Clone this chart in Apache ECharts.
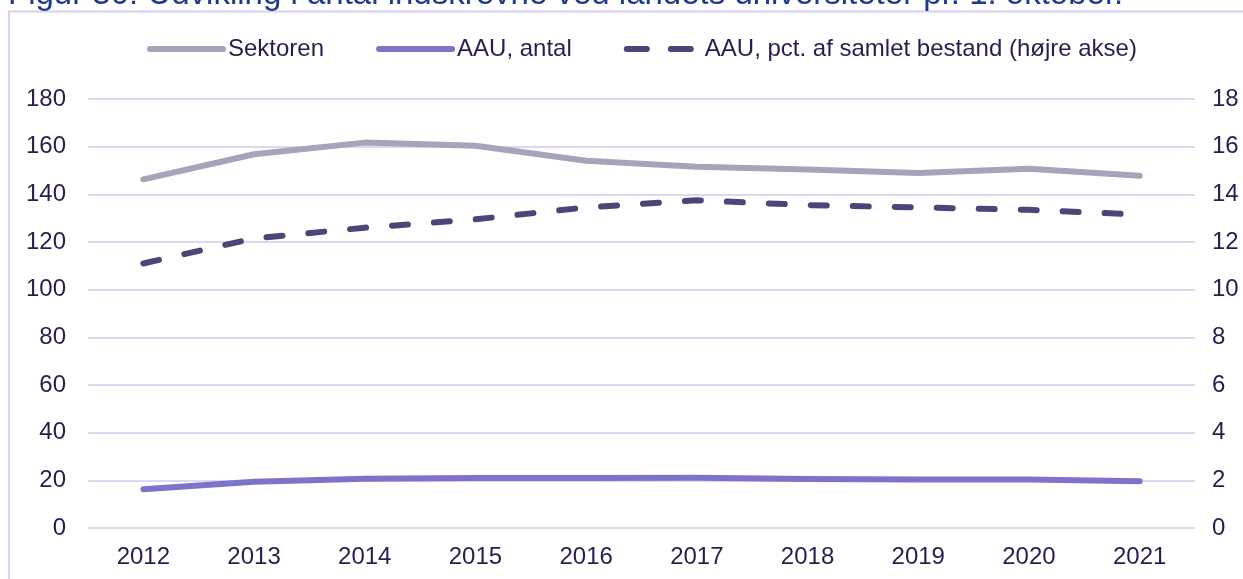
<!DOCTYPE html>
<html>
<head>
<meta charset="utf-8">
<script src="https://cdn.jsdelivr.net/npm/echarts@6/dist/echarts.min.js"></script>
<style>
html,body{margin:0;padding:0;background:#fff;}
#chart{width:1243px;height:579px;}
</style>
</head>
<body>
<div id="chart"></div>
<script>
const years = ['2012','2013','2014','2015','2016','2017','2018','2019','2020','2021'];
const sektoren = [146.3, 156.8, 161.7, 160.4, 154.1, 151.6, 150.4, 148.9, 150.7, 147.8];
const aauAntal = [16.3, 19.4, 20.7, 21.0, 21.0, 21.1, 20.6, 20.4, 20.4, 19.6];
const aauPct = [11.1, 12.15, 12.6, 12.95, 13.45, 13.75, 13.55, 13.45, 13.35, 13.15];
const titleText = 'Figur 30: Udvikling i antal indskrevne ved landets universiteter pr. 1. oktober.';

const textColor = '#231F4F';
const gridColor = '#DCD8F2';
const font = 'Liberation Sans, Arial, sans-serif';

const chart = echarts.init(document.getElementById('chart'));
chart.setOption({
  animation: false,
  textStyle: {fontFamily: font},
  graphic: [
    {type: 'rect', shape: {x: 9, y: 11.5, width: 1300, height: 700},
     style: {fill: 'none', stroke: '#D6D2F0', lineWidth: 2}, z: -1},
    {type: 'text', left: 8, top: -22,
     style: {text: titleText, fontSize: 33, fontFamily: font, fill: '#1F3A87'}}
  ],
  legend: {
    left: 142, top: 32,
    itemWidth: 73, itemHeight: 14, itemGap: 52,
    itemStyle: {opacity: 0},
    textStyle: {color: textColor, fontSize: 24, fontFamily: font},
    data: [
      {name: 'Sektoren', lineStyle: {width: 6, cap: 'round'}},
      {name: 'AAU, antal', lineStyle: {width: 6, cap: 'round'}},
      {name: 'AAU, pct. af samlet bestand (højre akse)',
       lineStyle: {type: [20, 24], width: 6, cap: 'round'}}
    ]
  },
  grid: {left: 88, right: 48, top: 99, bottom: 51, containLabel: false},
  xAxis: {
    type: 'category', data: years, boundaryGap: true,
    axisLine: {show: false}, axisTick: {show: false},
    axisLabel: {color: textColor, fontSize: 24, margin: 17, fontFamily: font}
  },
  yAxis: [
    {type: 'value', min: 0, max: 180, interval: 20,
     axisLine: {show: false}, axisTick: {show: false},
     axisLabel: {color: textColor, fontSize: 24, margin: 22, fontFamily: font},
     splitLine: {lineStyle: {color: gridColor, width: 2}}},
    {type: 'value', min: 0, max: 18, interval: 2, position: 'right',
     axisLine: {show: false}, axisTick: {show: false},
     axisLabel: {color: textColor, fontSize: 24, margin: 17, fontFamily: font},
     splitLine: {show: false}}
  ],
  series: [
    {name: 'Sektoren', type: 'line', data: sektoren, yAxisIndex: 0,
     symbol: 'none', color: '#A7A3BB',
     lineStyle: {width: 6, color: '#A7A3BB', cap: 'round', join: 'round'}},
    {name: 'AAU, antal', type: 'line', data: aauAntal, yAxisIndex: 0,
     symbol: 'none', color: '#7C74CB',
     lineStyle: {width: 6, color: '#7C74CB', cap: 'round', join: 'round'}},
    {name: 'AAU, pct. af samlet bestand (højre akse)', type: 'line', data: aauPct, yAxisIndex: 1,
     symbol: 'none', color: '#4B4677',
     lineStyle: {width: 6, color: '#4B4677', type: [16, 26], cap: 'round', join: 'round'}}
  ]
});
</script>
</body>
</html>
